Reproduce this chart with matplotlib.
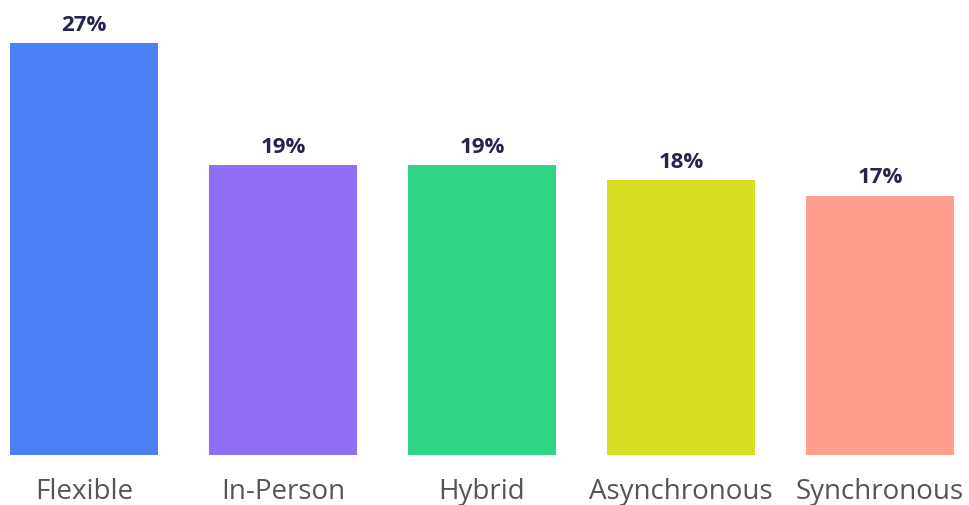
import matplotlib
matplotlib.use("Agg")
import matplotlib.pyplot as plt

# Preferred learning format shares
categories = ["Flexible", "In-Person", "Hybrid", "Asynchronous", "Synchronous"]
shares = [27, 19, 19, 18, 17]
colors = ["#4A7FF5", "#8F6EF3", "#2FD585", "#D6DF22", "#FFA08E"]

plt.rcParams["font.family"] = ["Open Sans", "DejaVu Sans"]

fig = plt.figure(figsize=(9.69, 5.06), dpi=100)
ax = fig.add_axes([0, 0.0988, 1, 0.8746])

x = range(len(categories))
ax.bar(x, shares, width=0.74, color=colors)

for xi, v in zip(x, shares):
    ax.text(xi, v + 0.55, f"{v}%", ha="center", va="bottom",
            fontsize=16, fontweight="bold", color="#25244F")

ax.set_xlim(-84 / 199, (969 - 84) / 199)
ax.set_ylim(0, 29)
ax.set_xticks(list(x))
ax.set_xticklabels(categories, fontsize=20, color="#555555")
ax.tick_params(axis="x", length=0, pad=16)
ax.set_yticks([])
for spine in ax.spines.values():
    spine.set_visible(False)

plt.savefig("out.png", dpi=100)
